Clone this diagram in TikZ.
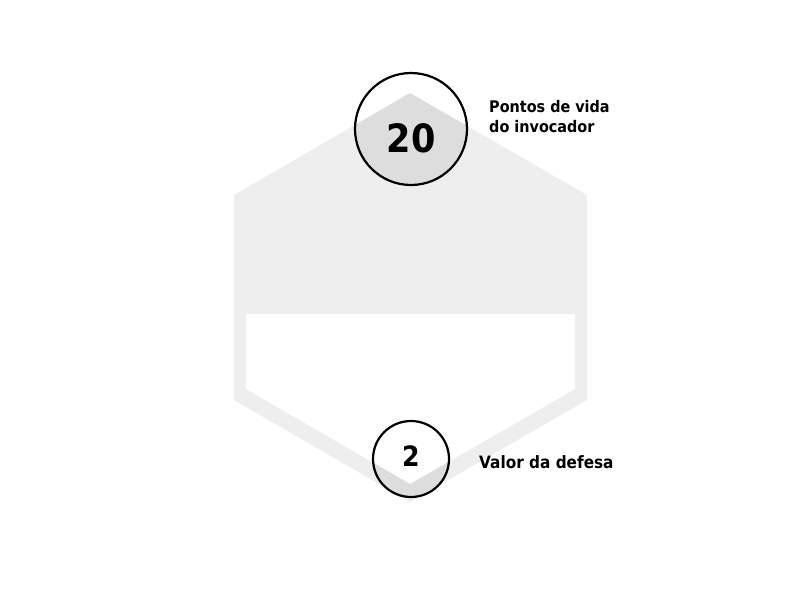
\documentclass[tikz,border=0pt]{standalone}
\usepackage{fontspec}
\setmainfont{DejaVu Sans}[FakeStretch=0.9]
\usetikzlibrary{positioning}
\definecolor{hexgray}{HTML}{EEEEEE}
\definecolor{hexdark}{HTML}{DDDDDD}
\def\hexouter{(410,93) -- (587,195) -- (587,400) -- (410,502) -- (234,400) -- (234,195) -- cycle}
\def\hexinner{(246,314) -- (575,314) -- (575,389) -- (410,484) -- (246,389) -- cycle}
\tikzset{
  stat/.style={circle,draw=black,line width=2.2pt,inner sep=0pt},
  statlabel/.style={font=\bfseries\fontsize{16}{20}\selectfont,align=left,anchor=base west,inner sep=0pt}
}

\begin{document}
\begin{tikzpicture}[x=1pt,y=-1pt]
  \useasboundingbox (0,0) rectangle (800,600);

  % card outline
  \fill[hexgray] \hexouter;
  \fill[white] \hexinner;

  % shaded parts under the two circles
  \begin{scope}
    \fill[white] (411,129) circle (56);
    \clip (411,129) circle (56);
    \fill[hexdark] \hexouter;
  \end{scope}
  \begin{scope}
    \fill[white] (411,459) circle (38);
    \clip (411,459) circle (38);
    \fill[hexdark,even odd rule] \hexouter \hexinner;
  \end{scope}

  % stats
  \node[stat,minimum size=112pt,font=\bfseries\fontsize{39}{39}\selectfont] (hp) at (411,129) {\raisebox{-23.5pt}[0pt][0pt]{20}};
  \node[stat,minimum size=76pt,font=\bfseries\fontsize{28}{28}\selectfont] (def) at (411,459) {\raisebox{-7pt}[0pt][0pt]{2}};

  \node[statlabel] (hplabel) at (489,132) {Pontos de vida\\do invocador};
  \node[statlabel,font=\bfseries\fontsize{17}{20}\selectfont] (deflabel) at (479,468) {Valor da defesa};
\end{tikzpicture}
\end{document}
